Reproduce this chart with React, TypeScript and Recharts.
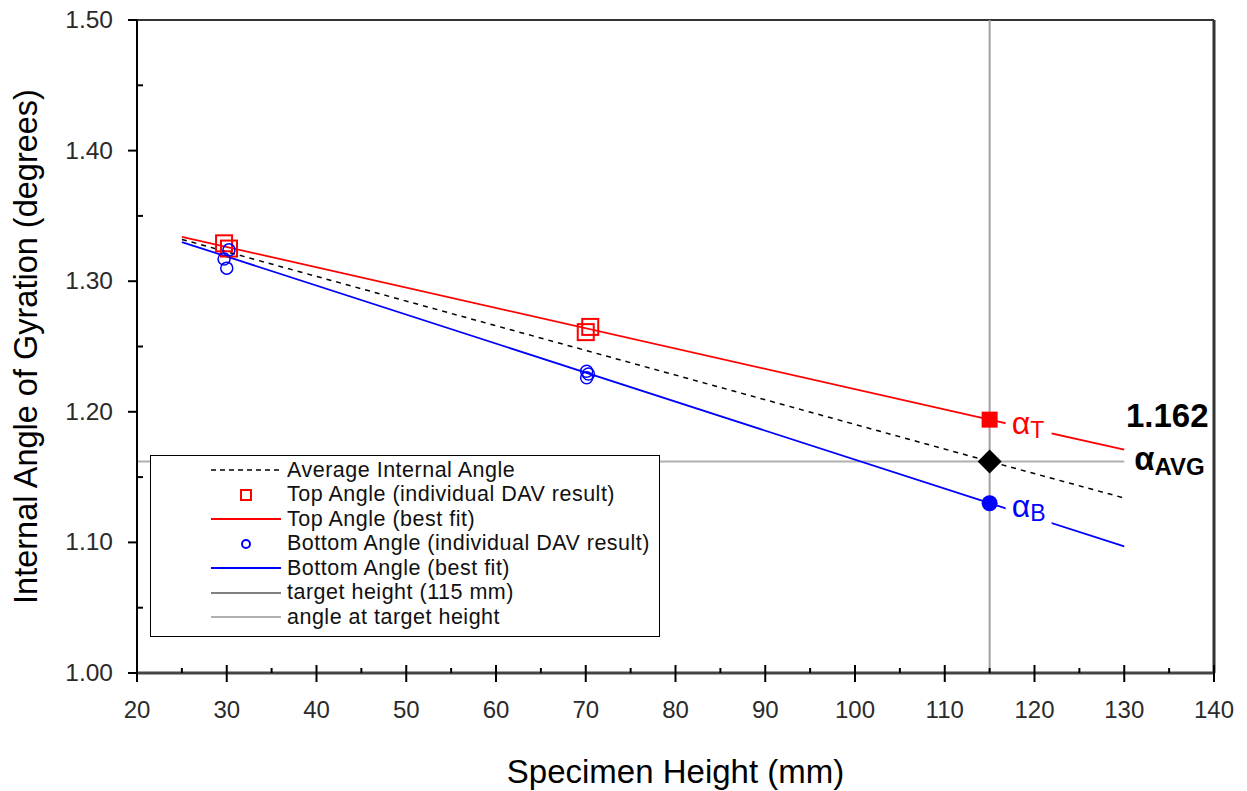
import {
  ComposedChart,
  Line,
  Scatter,
  XAxis,
  YAxis,
  ReferenceLine,
  ReferenceDot,
  Legend,
} from 'recharts';

const FONT = '"Liberation Sans", Arial, sans-serif';

// individual DAV results
const topX = [29.7, 30.25, 70.0, 70.5];
const topAngle = [1.329, 1.325, 1.261, 1.265];
const bottomX = [30.25, 29.7, 30.0, 70.1, 70.3, 70.1];
const bottomAngle = [1.324, 1.317, 1.31, 1.231, 1.229, 1.226];

// best fit lines
const fitX = [25, 115, 130];
const topFit = [1.334, 1.194, 1.171];
const bottomFit = [1.33, 1.13, 1.097];
const avgFit = [1.332, 1.162, 1.134];

const targetHeight = 115;
const targetAngle = 1.162;
const targetLineEnd = 130;

const xTicks = [20, 25, 30, 35, 40, 45, 50, 55, 60, 65, 70, 75, 80, 85, 90, 95, 100, 105, 110, 115, 120, 125, 130, 135, 140];
const yTicks = [1.0, 1.05, 1.1, 1.15, 1.2, 1.25, 1.3, 1.35, 1.4, 1.45, 1.5];

const legendLabels = [
  'Average Internal Angle',
  'Top Angle (individual DAV result)',
  'Top Angle (best fit)',
  'Bottom Angle (individual DAV result)',
  'Bottom Angle (best fit)',
  'target height (115 mm)',
  'angle at target height',
];

const zip = (xs: number[], ys: number[]) => xs.map((x, i) => ({ x, y: ys[i] }));

const topPts = zip(topX, topAngle);
const bottomPts = zip(bottomX, bottomAngle);
const topLine = zip(fitX, topFit);
const bottomLine = zip(fitX, bottomFit);
const avgLine = zip(fitX, avgFit);
const topTarget = [{ x: targetHeight, y: topFit[1] }];
const bottomTarget = [{ x: targetHeight, y: bottomFit[1] }];
const avgTarget = [{ x: targetHeight, y: targetAngle }];

const XTick = (props: any) => {
  const { x, y, payload } = props;
  const v = payload.value;
  const major = Math.round(v) % 10 === 0;
  return (
    <g>
      <line x1={x} x2={x} y1={y - (major ? 8 : 5)} y2={major ? y + 9 : y} stroke="#000" strokeWidth={2} />
      {major && (
        <text x={x} y={y + 45} textAnchor="middle" fontSize={24} fill="#2a2a2a" fontFamily={FONT}>
          {v}
        </text>
      )}
    </g>
  );
};

const YTick = (props: any) => {
  const { x, y, payload } = props;
  const v = payload.value;
  const major = Math.round(v * 100) % 10 === 0;
  return (
    <g>
      {major ? (
        <line x1={x - 9} x2={x} y1={y} y2={y} stroke="#000" strokeWidth={2} />
      ) : (
        <line x1={x} x2={x + 6} y1={y} y2={y} stroke="#000" strokeWidth={2} />
      )}
      {major && (
        <text x={x - 24} y={y + 8} textAnchor="end" fontSize={24.5} fill="#2a2a2a" fontFamily={FONT}>
          {v.toFixed(2)}
        </text>
      )}
    </g>
  );
};

const LegendBox = () => (
  <div
    style={{
      width: 510,
      height: 182,
      boxSizing: 'border-box',
      border: '1.5px solid #000',
      background: '#fff',
      paddingTop: 2,
      fontFamily: FONT,
      fontSize: 21.5,
      letterSpacing: 0.5,
      color: '#111',
    }}
  >
    {legendLabels.map((label, i) => (
      <div key={label} style={{ display: 'flex', alignItems: 'center', height: 24.5 }}>
        <svg width={136} height={24}>
          {i === 0 && <line x1={60} x2={130} y1={12} y2={12} stroke="#000" strokeWidth={1.5} strokeDasharray="5 4" />}
          {i === 1 && <rect x={90} y={7} width={10} height={10} fill="none" stroke="#f00" strokeWidth={2} />}
          {i === 2 && <line x1={60} x2={130} y1={12} y2={12} stroke="#f00" strokeWidth={2} />}
          {i === 3 && <circle cx={95} cy={12} r={4} fill="none" stroke="#00f" strokeWidth={2} />}
          {i === 4 && <line x1={60} x2={130} y1={12} y2={12} stroke="#00f" strokeWidth={2} />}
          {i === 5 && <line x1={60} x2={130} y1={12} y2={12} stroke="#808080" strokeWidth={2} />}
          {i === 6 && <line x1={60} x2={130} y1={12} y2={12} stroke="#b0b0b0" strokeWidth={2} />}
        </svg>
        <span style={{ whiteSpace: 'nowrap' }}>{label}</span>
      </div>
    ))}
  </div>
);

const alphaLabel = (sub: string, color: string) => (p: any) => (
  <g>
    <rect x={p.cx + 16} y={p.cy - 18} width={46} height={44} fill="#fff" />
    <text x={p.cx + 22} y={p.cy + 14} fill={color} fontFamily={FONT}>
      <tspan fontSize={32}>α</tspan>
      <tspan fontSize={23} dy={4}>{sub}</tspan>
    </text>
  </g>
);

const avgLabel = (p: any) => (
  <g>
    <text x={p.cx + 43} y={p.cy - 34} textAnchor="middle" fontSize={33} fontWeight="bold" fill="#000" fontFamily={FONT}>
      {targetAngle.toFixed(3)}
    </text>
    <text x={p.cx + 10} y={p.cy + 9} fill="#000" fontFamily={FONT} fontWeight="bold">
      <tspan fontSize={33}>α</tspan>
      <tspan fontSize={24} dy={5}>AVG</tspan>
    </text>
  </g>
);

export default function App() {
  return (
    <div style={{ position: 'absolute', left: 0, top: 0, background: '#fff' }}>
      <ComposedChart width={1247} height={791} margin={{ top: 20, right: 33, bottom: 0, left: 0 }}>
        <XAxis
          dataKey="x"
          type="number"
          domain={[20, 140]}
          ticks={xTicks}
          interval={0}
          height={118}
          tickSize={0}
          tickMargin={0}
          tickLine={false}
          tick={<XTick />}
          axisLine={{ stroke: '#444', strokeWidth: 3 }}
          label={{
            content: (p: any) => (
              <text
                x={p.viewBox.x + p.viewBox.width / 2}
                y={p.viewBox.y + 110}
                textAnchor="middle"
                fontSize={33}
                fill="#000"
                fontFamily={FONT}
              >
                Specimen Height (mm)
              </text>
            ),
          }}
        />
        <YAxis
          type="number"
          domain={[1.0, 1.5]}
          ticks={yTicks}
          interval={0}
          width={137}
          tickSize={0}
          tickMargin={0}
          tickLine={false}
          tick={<YTick />}
          axisLine={{ stroke: '#000', strokeWidth: 2 }}
          label={{
            content: (p: any) => {
              const cy = p.viewBox.y + p.viewBox.height / 2;
              return (
                <text
                  x={37}
                  y={cy}
                  transform={`rotate(-90, 37, ${cy})`}
                  textAnchor="middle"
                  fontSize={32.5}
                  fill="#000"
                  fontFamily={FONT}
                >
                  Internal Angle of Gyration (degrees)
                </text>
              );
            },
          }}
        />
        <ReferenceLine y={1.5} stroke="#333" strokeWidth={2} />
        <ReferenceLine x={140} stroke="#333" strokeWidth={3} />
        <ReferenceLine x={targetHeight} stroke="#a0a0a0" strokeWidth={2} />
        <ReferenceLine
          segment={[
            { x: 20, y: targetAngle },
            { x: targetLineEnd, y: targetAngle },
          ]}
          stroke="#b0b0b0"
          strokeWidth={2}
        />
        <Line data={avgLine} dataKey="y" stroke="#000" strokeWidth={1.5} strokeDasharray="5 5" dot={false} isAnimationActive={false} />
        <Line data={topLine} dataKey="y" stroke="#f00" strokeWidth={1.8} dot={false} isAnimationActive={false} />
        <Line data={bottomLine} dataKey="y" stroke="#00f" strokeWidth={1.8} dot={false} isAnimationActive={false} />
        <Scatter
          data={topPts}
          dataKey="y"
          isAnimationActive={false}
          shape={(p: any) => (
            <rect x={p.cx - 8} y={p.cy - 8} width={16} height={16} fill="none" stroke="#f00" strokeWidth={2} />
          )}
        />
        <Scatter
          data={bottomPts}
          dataKey="y"
          isAnimationActive={false}
          shape={(p: any) => <circle cx={p.cx} cy={p.cy} r={6} fill="none" stroke="#00f" strokeWidth={1.5} />}
        />
        <ReferenceDot x={targetHeight} y={topFit[1]} shape={alphaLabel('T', '#f00')} />
        <ReferenceDot x={targetHeight} y={bottomFit[1]} shape={alphaLabel('B', '#00f')} />
        <ReferenceDot x={targetLineEnd} y={targetAngle} shape={avgLabel} />
        <Scatter
          data={topTarget}
          dataKey="y"
          isAnimationActive={false}
          shape={(p: any) => <rect x={p.cx - 8} y={p.cy - 8} width={16} height={16} fill="#f00" />}
        />
        <Scatter
          data={bottomTarget}
          dataKey="y"
          isAnimationActive={false}
          shape={(p: any) => <circle cx={p.cx} cy={p.cy} r={8} fill="#00f" />}
        />
        <Scatter
          data={avgTarget}
          dataKey="y"
          isAnimationActive={false}
          shape={(p: any) => (
            <polygon
              points={`${p.cx},${p.cy - 12} ${p.cx + 12},${p.cy} ${p.cx},${p.cy + 12} ${p.cx - 12},${p.cy}`}
              fill="#000"
            />
          )}
        />
        <Legend
          layout="horizontal"
          verticalAlign="middle"
          align="center"
          content={() => <LegendBox />}
          wrapperStyle={{ left: 150, top: 455, width: 510, height: 182 }}
        />
      </ComposedChart>
    </div>
  );
}
